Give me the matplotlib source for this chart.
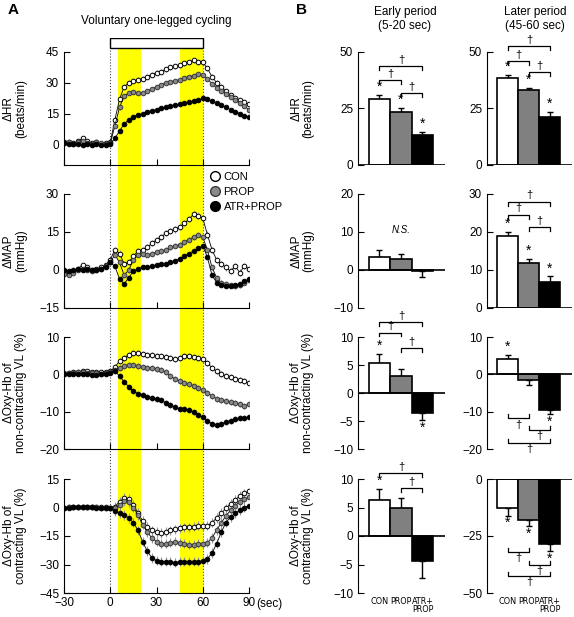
import numpy as np
import matplotlib
matplotlib.use("Agg")
import matplotlib.pyplot as plt
from matplotlib.lines import Line2D
from matplotlib.patches import Rectangle

plt.rcParams['font.family'] = ['Liberation Sans', 'DejaVu Sans']
plt.rcParams['font.size'] = 8

# time axis (sec), one sample every 3 s
t = np.arange(-30, 91, 3)

# ---- panel A time courses ----
hr_con = [1, 1, 0.5, 1.5, 3, 1.5, 0.5, 1, 0, 0.5, 1,
          12, 22, 28, 30, 31, 31.5, 32, 33, 34, 35, 35.5, 36.5, 37.5, 38, 38.5, 39.5, 40, 41, 40,
          40, 37, 33, 30, 28, 26, 24, 22.5, 21.5, 20.5, 19.5]
hr_prop = [0.5, 1, 0, 1, 1.5, 0.5, 0, 1, 0.5, 0, 0.5,
           9, 18, 23.5, 25, 25.5, 25, 25, 26, 27, 28, 29, 30, 30.5, 31, 31.5, 32.5, 33, 33.5, 34.5,
           34, 32, 29.5, 27.5, 26, 24.5, 23, 21.5, 20, 18.5, 17]
hr_atr = [0.5, 0, 0, 0, -0.5, 0, -0.5, 0, -0.5, -0.5, 0,
          3, 6.5, 10, 12, 13.5, 14.5, 15, 16, 16.5, 17, 17.5, 18, 18.5, 19, 19.5, 20, 20.5, 21, 21.5,
          22.5, 22, 21, 20, 19, 18, 17, 16, 15, 14, 13.5]

map_con = [-1, -1.5, -0.5, 0.5, 2, 1, 0, 0.5, 1, 2, 4,
           8, 6.5, 2.5, 3, 5.5, 7.5, 8, 9, 10.5, 12, 13, 14.5, 15.5, 16, 17, 18.5, 20, 22, 21.5,
           20.5, 14, 8, 4, 2.5, 1, -0.5, 1.5, -1, 1.5, 0.5]
map_prop = [-1.5, -2, -1, 0, 0.5, 0, -0.5, 0, 0.5, 1.5, 3,
            6, 3, -2, 0, 4, 6, 6.5, 6, 6.5, 7, 7.5, 8, 9, 9.5, 10, 11, 12, 13, 14,
            13, 8, 1, -3, -5, -5.5, -6, -6.5, -6, -5, -4]
map_atr = [0, -0.5, 0, 0.5, 0, 0.5, 0, 0, 0.5, 1, 3,
           1.5, -3.5, -5.5, -3, -0.5, 0.5, 1, 1, 1.5, 2, 2.5, 2.5, 3, 3.5, 4.5, 5.5, 6.5, 7.5, 8.5,
           9.5, 5, -2, -5, -6, -6.5, -6.5, -6, -5.5, -4.5, -3.5]

ncvl_con = [0.2, 0.4, 0.5, 0.7, 0.8, 0.8, 0.7, 0.5, 0.5, 0.6, 0.8,
            2, 3.5, 4.5, 5.2, 5.8, 5.7, 5.5, 5.3, 5.2, 5, 4.8, 4.6, 4.4, 4.2, 4.3, 4.8, 5, 4.6, 4.4,
            4, 3, 1.8, 0.8, 0, -0.5, -0.8, -1.2, -1.6, -1.8, -2.4]
ncvl_prop = [0.3, 0.3, 0.4, 0.5, 0.5, 0.4, 0.3, 0.3, 0.2, 0.3, 0.6,
             1.2, 1.8, 2.3, 2.6, 2.5, 2.2, 1.9, 1.7, 1.8, 1.5, 1.2, 0.5, -0.5, -1.2, -1.8, -2.2, -2.6, -3, -3.6,
             -4.2, -5, -5.8, -6.5, -6.9, -7.2, -7.5, -7.7, -8, -8.4, -8]
ncvl_atr = [0, 0, 0.1, 0.2, 0.1, 0, -0.1, -0.1, 0, 0, 0.3,
            1, -0.5, -2, -3.3, -4.5, -5.2, -5.6, -6, -6.3, -6.6, -7, -7.6, -8.2, -8.8, -9.2, -9.4, -9.5, -10.2, -10.8,
            -11.5, -12.4, -13.2, -13.6, -13.2, -12.8, -12.4, -12, -11.8, -11.6, -11.5]

cvl_con = [0, 0.2, 0.3, 0.2, 0.3, 0.4, 0.3, 0.2, 0.2, 0.1, 0,
           0.5, 3, 5, 4.5, 1.5, -3, -7, -10, -12, -13, -13.5, -13, -12, -11.5, -11, -10.5, -10.5, -10, -9.5,
           -9.5, -9.5, -8, -5.5, -3, -0.5, 2, 4, 6, 7.5, 8.5]
cvl_prop = [0, 0.1, 0.2, 0.1, 0.2, 0.3, 0.2, 0.1, 0, 0, 0,
            -0.5, 1.5, 3.5, 3, 0, -4, -9, -13, -16, -18, -19, -19, -18.5, -18, -18.5, -19, -19.5, -19.5, -19,
            -19, -18.5, -16, -12, -8, -4.5, -1.5, 1, 3, 4.5, 5.5]
cvl_atr = [0, 0, 0.2, 0.1, 0.2, 0.1, 0.1, 0, 0, -0.2, -0.5,
           -2, -3, -4, -5.5, -8, -12, -18, -23, -26.5, -28, -28.5, -28.5, -28.5, -29, -28.5, -28.5, -28.5, -28.5, -28.5,
           -28, -27, -24, -19, -13, -8, -5, -3, -1.5, 0, 1]

# typical SEM of each curve during exercise
sem_hr = [1.2, 1.0, 0.8]
sem_map = [1.2, 1.0, 0.8]
sem_ncvl = [0.8, 0.8, 0.8]
sem_cvl = [2.5, 2.5, 2.5]

# ---- panel B bar data ----
groups = ['CON', 'PROP', 'ATR+\nPROP']
early_hr, early_hr_sem = [29.3, 23.6, 13.4], [1.5, 1.5, 1.3]
later_hr, later_hr_sem = [38.6, 33.0, 21.4], [1.1, 0.9, 2.0]
early_map, early_map_sem = [3.5, 2.8, -0.3], [1.7, 1.3, 1.5]
later_map, later_map_sem = [18.9, 11.8, 6.8], [1.1, 1.2, 1.5]
early_ncvl, early_ncvl_sem = [5.4, 3.0, -3.5], [1.6, 1.2, 1.4]
later_ncvl, later_ncvl_sem = [4.0, -1.6, -9.6], [1.3, 1.3, 1.0]
early_cvl, early_cvl_sem = [6.3, 5.0, -4.4], [1.9, 1.7, 3.0]
later_cvl, later_cvl_sem = [-12.9, -18.0, -28.7], [3.2, 2.6, 2.9]

W, H = 574, 617
fig = plt.figure(figsize=(W / 100, H / 100), dpi=100)


def box(x0, y0, x1, y1):
    return [x0 / W, 1 - y1 / H, (x1 - x0) / W, (y1 - y0) / H]


rows = [(52, 165), (194, 308), (337, 449), (479, 593)]

# background: yellow windows, dotted lines and the cycling bar
bg = fig.add_axes(box(64, 38, 249, 593))
bg.set_xlim(-30, 90)
bg.set_ylim(0, 1)
bg.axis('off')
top = 545 / 555
bg.axvspan(5, 20, ymin=0, ymax=top, color='#ffff00', lw=0)
bg.axvspan(45, 60, ymin=0, ymax=top, color='#ffff00', lw=0)
for xv in (0, 60):
    bg.plot([xv, xv], [0, top], ls=':', color='#444444', lw=0.8)
bg.add_patch(Rectangle((0, top), 60, 1 - top, facecolor='white', edgecolor='black', lw=1))
bg.text(30, 1.02, 'Voluntary one-legged cycling', ha='center', va='bottom', fontsize=8.5)

series_style = [dict(mfc='white', mec='black'),
                dict(mfc='#8a8a8a', mec='#3a3a3a'),
                dict(mfc='black', mec='black')]

left_panels = [
    ([hr_con, hr_prop, hr_atr], sem_hr, (-10, 45), [0, 15, 30, 45], 'ΔHR\n(beats/min)'),
    ([map_con, map_prop, map_atr], sem_map, (-15, 30), [-15, 0, 15, 30], 'ΔMAP\n(mmHg)'),
    ([ncvl_con, ncvl_prop, ncvl_atr], sem_ncvl, (-20, 10), [-20, -10, 0, 10],
     'ΔOxy-Hb of\nnon-contracting VL (%)'),
    ([cvl_con, cvl_prop, cvl_atr], sem_cvl, (-45, 15), [-45, -30, -15, 0, 15],
     'ΔOxy-Hb of\ncontracting VL (%)'),
]

for k, (series, sems, ylim, yt, ylab) in enumerate(left_panels):
    ax = fig.add_axes(box(64, rows[k][0], 249, rows[k][1]))
    ax.patch.set_visible(False)
    for y, s, st in zip(series, sems, series_style):
        err = np.where(t > 0, s, 0.2)
        ax.errorbar(t, y, yerr=err, fmt='none', ecolor='#9a9a9a', elinewidth=0.8, zorder=1)
        ax.plot(t, y, '-', color='black', lw=0.6, marker='o', ms=3.3, mew=0.7, zorder=2, **st)
    ax.set_xlim(-30, 90)
    ax.set_ylim(*ylim)
    ax.set_yticks(yt)
    ax.set_xticks([-30, 0, 30, 60, 90])
    ax.spines['top'].set_visible(False)
    ax.spines['right'].set_visible(False)
    ax.tick_params(direction='in', length=4, labelsize=8.5)
    if k < 3:
        ax.set_xticklabels([])
    else:
        ax.tick_params(axis='x', pad=3)
        ax.annotate('(sec)', xy=(94, ylim[0]), xytext=(1, -3.5), textcoords='offset points',
                    ha='left', va='top', fontsize=8.5, annotation_clip=False)
    ax.set_ylabel(ylab, fontsize=8.5, linespacing=1.0)
    ax.yaxis.set_label_coords(-0.2, 0.5)
    if k == 1:
        handles = [Line2D([], [], ls='none', marker='o', ms=7, mew=1, **st) for st in series_style]
        ax.legend(handles, ['CON', 'PROP', 'ATR+PROP'], loc='upper left',
                  bbox_to_anchor=(0.76, 1.23), frameon=False, handletextpad=0.3,
                  labelspacing=0.45, borderaxespad=0, handlelength=1.0, fontsize=8)

bar_colors = ['white', '#808080', 'black']


def bar_panel(ax, vals, sems, ylim, yt, stars, brackets, ylab=None, labels=False):
    x = np.arange(3)
    ax.bar(x, vals, width=1.0, color=bar_colors, edgecolor='black', linewidth=1.2, zorder=2)
    rng = ylim[1] - ylim[0]
    for i, (v, s) in enumerate(zip(vals, sems)):
        if v >= 0:
            ax.errorbar(i, v, yerr=[[0], [s]], ecolor='black', elinewidth=1, capsize=2.5, zorder=1)
        else:
            ax.errorbar(i, v, yerr=[[s], [0]], ecolor='black', elinewidth=1, capsize=2.5, zorder=1)
        if i in stars:
            if v >= 0:
                ax.text(i, v + s + 0.01 * rng, '*', ha='center', va='bottom', fontsize=10)
            else:
                ax.text(i, v - s - 0.005 * rng, '*', ha='center', va='top', fontsize=10)
    for i, j, yb, d in brackets:
        leg = 0.035 * rng * d
        ax.plot([i, i, j, j], [yb - leg, yb, yb, yb - leg], color='black', lw=0.9, clip_on=False)
        if d > 0:
            ax.text((i + j) / 2, yb + 0.01 * rng, '†', ha='center', va='bottom', fontsize=8)
        else:
            ax.text((i + j) / 2, yb - 0.01 * rng, '†', ha='center', va='top', fontsize=8)
    ax.axhline(0, color='black', lw=1.2, zorder=3)
    ax.set_xlim(-1, 3.05)
    ax.set_ylim(*ylim)
    ax.set_yticks(yt)
    for sp in ('top', 'right', 'bottom'):
        ax.spines[sp].set_visible(False)
    ax.tick_params(axis='y', direction='in', length=4, labelsize=8.5)
    if labels:
        ax.set_xticks(x, groups)
        ax.tick_params(axis='x', length=0, pad=3)
        for lab in ax.get_xticklabels():
            lab.set_linespacing(0.9)
            lab.set_family('DejaVu Sans')
            lab.set_stretch('condensed')
            lab.set_fontsize(6.5)
    else:
        ax.set_xticks([])
    if ylab:
        ax.set_ylabel(ylab, fontsize=8.5, linespacing=1.0)
        ax.yaxis.set_label_coords(-0.5, 0.5)


right_cols = [(358, 445), (487, 572)]
panels_b = [
    # early
    [(early_hr, early_hr_sem, (0, 50), [0, 25, 50], [0, 1, 2],
      [(0, 1, 37.6, 1), (0, 2, 43.8, 1), (1, 2, 31.7, 1)], 'ΔHR\n(beats/min)'),
     (early_map, early_map_sem, (-10, 20), [-10, 0, 10, 20], [], [], 'ΔMAP\n(mmHg)'),
     (early_ncvl, early_ncvl_sem, (-10, 10), [-10, -5, 0, 5, 10], [0, 2],
      [(0, 1, 10.8, 1), (0, 2, 12.7, 1), (1, 2, 8.0, 1)], 'ΔOxy-Hb of\nnon-contracting VL (%)'),
     (early_cvl, early_cvl_sem, (-10, 10), [-10, -5, 0, 5, 10], [0],
      [(0, 2, 11.0, 1), (1, 2, 8.4, 1)], 'ΔOxy-Hb of\ncontracting VL (%)')],
    # later
    [(later_hr, later_hr_sem, (0, 50), [0, 25, 50], [0, 1, 2],
      [(0, 1, 46.0, 1), (0, 2, 52.7, 1), (1, 2, 41.3, 1)], None),
     (later_map, later_map_sem, (0, 30), [0, 10, 20, 30], [0, 1, 2],
      [(0, 1, 24.6, 1), (0, 2, 28.0, 1), (1, 2, 21.2, 1)], None),
     (later_ncvl, later_ncvl_sem, (-20, 10), [-20, -10, 0, 10], [0, 2],
      [(0, 1, -11.8, -1), (1, 2, -14.9, -1), (0, 2, -18.4, -1)], None),
     (later_cvl, later_cvl_sem, (-50, 0), [-50, -25, 0], [0, 1, 2],
      [(0, 1, -31.9, -1), (1, 2, -37.7, -1), (0, 2, -42.5, -1)], None)],
]

for c, col in enumerate(panels_b):
    for r, (vals, sems, ylim, yt, stars, brackets, ylab) in enumerate(col):
        ax = fig.add_axes(box(right_cols[c][0], rows[r][0], right_cols[c][1], rows[r][1]))
        ax.patch.set_visible(False)
        bar_panel(ax, vals, sems, ylim, yt, stars, brackets, ylab, labels=(r == 3))
        if c == 0 and r == 1:
            ax.text(1, 10.5, 'N.S.', style='italic', ha='center', va='center', fontsize=7)

fig.text(405 / W, 1 - 6 / H, 'Early period\n(5-20 sec)', ha='center', va='top', fontsize=8.5)
fig.text(535 / W, 1 - 6 / H, 'Later period\n(45-60 sec)', ha='center', va='top', fontsize=8.5)
fig.text(8 / W, 1 - 3 / H, 'A', ha='left', va='top', fontsize=11, fontweight='bold')
fig.text(296 / W, 1 - 3 / H, 'B', ha='left', va='top', fontsize=11, fontweight='bold')

fig.savefig('out.png', dpi=100)
